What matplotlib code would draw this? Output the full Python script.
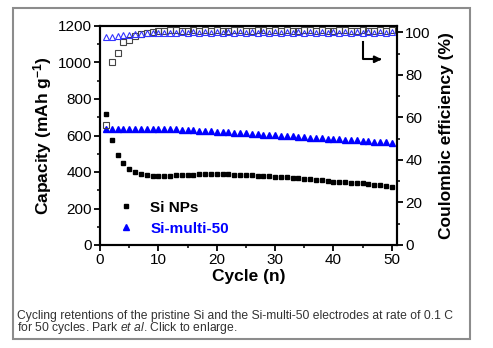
import matplotlib.pyplot as plt
from matplotlib.patches import Rectangle
from matplotlib.ticker import MultipleLocator

plt.rcParams['font.family'] = ['Liberation Sans', 'DejaVu Sans']
plt.rcParams['mathtext.fontset'] = 'custom'
plt.rcParams['mathtext.rm'] = 'Liberation Sans'
plt.rcParams['mathtext.it'] = 'Liberation Sans:italic'
plt.rcParams['mathtext.bf'] = 'Liberation Sans:bold'

# cycle number 1..50
cycles = list(range(1, 51))

# discharge capacity (mAh/g)
si_cap = [718, 577, 493, 450, 415, 400, 390, 385, 380, 378,
          377, 380, 383, 384, 385, 386, 387, 387, 388, 389,
          388, 387, 386, 385, 383, 381, 379, 377, 376, 374,
          372, 370, 367, 365, 362, 360, 357, 354, 350, 347,
          345, 343, 341, 339, 337, 335, 331, 327, 323, 320]
multi_cap = [634, 635, 636, 636, 636, 636, 636, 636, 635, 635,
             635, 634, 633, 632, 631, 629, 627, 625, 623, 621,
             619, 617, 615, 613, 611, 609, 607, 605, 603, 601,
             599, 597, 595, 593, 591, 589, 587, 585, 583, 581,
             579, 577, 575, 573, 571, 569, 567, 565, 563, 560]

# coulombic efficiency (%)
si_ce = [56.3, 86.0, 90.1, 95.3, 96.6, 98.2, 99.2, 99.6, 100.3, 100.8,
         100.5, 100.9, 101.0, 100.6, 100.8, 101.1, 100.7, 100.9, 100.6, 101.0,
         100.8, 100.7, 101.0, 100.9, 100.6, 100.8, 101.1, 100.9, 100.7, 100.9,
         100.6, 101.0, 100.8, 100.7, 100.9, 101.0, 100.7, 100.9, 100.8, 100.6,
         100.9, 101.1, 100.7, 100.8, 100.9, 100.6, 100.8, 100.9, 100.7, 100.9]
multi_ce = [97.6, 98.0, 98.4, 98.7, 99.0, 99.2, 99.4, 99.5, 99.6, 99.7,
            99.8, 99.9, 99.8, 100.0, 99.9, 100.1, 99.8, 100.0, 99.9, 100.1,
            99.8, 100.0, 99.9, 100.1, 99.8, 100.0, 99.9, 100.1, 99.8, 100.0,
            99.9, 100.1, 99.8, 100.0, 99.9, 100.1, 99.8, 100.0, 99.9, 100.1,
            99.8, 100.0, 99.9, 100.1, 99.8, 100.0, 99.9, 100.1, 99.8, 100.0]

caption1 = "Cycling retentions of the pristine Si and the Si-multi-50 electrodes at rate of 0.1 C"
caption2 = "for 50 cycles. Park $et\\ al$. Click to enlarge."

fig = plt.figure(figsize=(4.93, 3.48), dpi=100)
fig.patches.append(Rectangle((13 / 493, 1 - 339 / 348), (470 - 13) / 493, (339 - 8) / 348,
                             transform=fig.transFigure, fill=False,
                             edgecolor='#8c8c8c', linewidth=1.5))

ax = fig.add_axes([100 / 493, 1 - 245 / 348, 297 / 493, 219 / 348])
ax2 = ax.twinx()

ax.plot(cycles, si_cap, 's', color='black', markersize=3.5, label='Si NPs', zorder=3)
ax.plot(cycles, multi_cap, '^', color='#0000ff', markersize=4.5, label='Si-multi-50', zorder=3)
ax2.plot(cycles, si_ce, 's', mfc='none', mec='#444444', markersize=4.2, mew=0.8)
ax2.plot(cycles, multi_ce, '^', mfc='none', mec='#3333ff', markersize=5, mew=0.8)

ax.set_xlim(0, 50.9)
ax.set_ylim(0, 1200)
ax2.set_ylim(0, 103)

ax.xaxis.set_major_locator(MultipleLocator(10))
ax.xaxis.set_minor_locator(MultipleLocator(5))
ax.yaxis.set_major_locator(MultipleLocator(200))
ax.yaxis.set_minor_locator(MultipleLocator(100))
ax2.yaxis.set_major_locator(MultipleLocator(20))
ax2.yaxis.set_minor_locator(MultipleLocator(10))

for a in (ax, ax2):
    for s in a.spines.values():
        s.set_linewidth(1.5)
    a.tick_params(which='major', direction='out', length=4, width=1.3, labelsize=11, pad=2)
    a.tick_params(which='minor', direction='out', length=2.5, width=1.1)
ax.tick_params(top=False, which='both')

ax.set_xlabel('Cycle (n)', fontsize=12.5, fontweight='bold', labelpad=1)
ax.set_ylabel('Capacity (mAh g$^{\\mathbf{-1}}$)', fontsize=12.5, fontweight='bold', labelpad=3)
ax2.set_ylabel('Coulombic efficiency (%)', fontsize=12.5, fontweight='bold', labelpad=6)

leg = ax.legend(loc='lower left', bbox_to_anchor=(0.0, -0.02), frameon=False,
                handletextpad=0.8, labelspacing=0.45, markerscale=1.0,
                prop={'weight': 'bold', 'size': 11}, handlelength=1.6)
leg.get_texts()[1].set_color('#0000ff')

# arrow pointing to the right axis
ax.plot([0.884, 0.884, 0.94], [0.928, 0.848, 0.848], color='black', lw=1.5,
        transform=ax.transAxes, clip_on=False)
ax.annotate('', xy=(0.958, 0.848), xytext=(0.93, 0.848), xycoords='axes fraction',
            arrowprops=dict(arrowstyle='-|>', color='black', lw=1.5, mutation_scale=10))

fig.text(17 / 493, 1 - 316 / 348, caption1, fontsize=8.7, color='#333333',
         va='center', ha='left')
fig.text(17 / 493, 1 - 328.5 / 348, caption2, fontsize=8.7, color='#333333',
         va='center', ha='left')

fig.savefig('out.png', dpi=100)
